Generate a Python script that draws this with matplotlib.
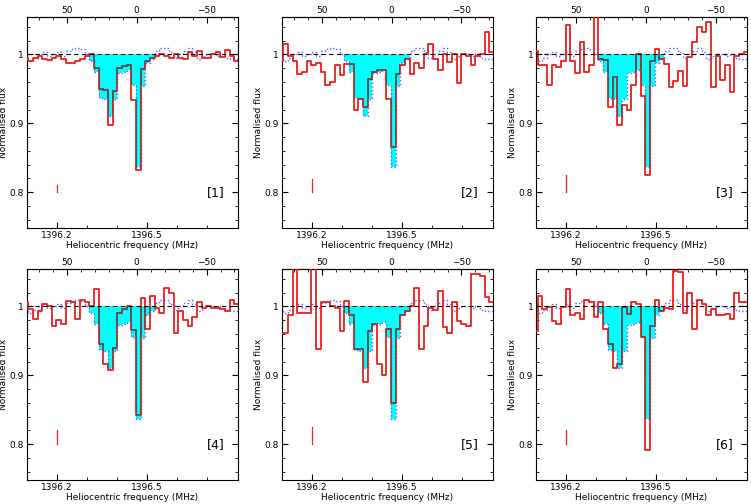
import numpy as np
import matplotlib.pyplot as plt
from matplotlib.ticker import MultipleLocator, FixedLocator

# channel grid (MHz), channels -24 .. 21 around the deepest channel
chan_width = 0.0156
freq = 1396.472 + chan_width * np.arange(-24, 22)

# model spectrum (blue dotted), same in every panel
model = [0.993, 0.990, 0.995, 1.000, 1.003, 0.998, 1.000, 1.003, 0.998, 1.005, 1.008, 1.010,
         1.008, 1.000, 0.990, 0.975, 0.937, 0.935, 0.911, 0.936, 0.973, 0.975, 0.977, 0.956,
         0.837, 0.954, 0.988, 0.993, 1.005, 1.010, 1.010, 1.003, 0.995, 1.000, 1.005, 1.010,
         1.003, 0.993, 0.997, 1.000, 1.000, 0.997, 1.000, 0.995, 0.993, 0.993]

flux1 = [0.995, 0.990, 0.995, 0.998, 0.993, 0.992, 0.995, 0.998, 0.993, 0.988, 0.988, 0.990,
         0.993, 0.998, 1.000, 0.980, 0.950, 0.948, 0.898, 0.947, 0.980, 0.983, 0.984, 0.934,
         0.832, 0.979, 0.991, 0.995, 0.997, 1.000, 0.998, 0.995, 1.000, 0.995, 0.993, 1.003,
         0.997, 1.005, 0.995, 0.995, 1.000, 1.003, 0.996, 1.007, 0.998, 0.990]
flux2 = [0.990, 1.015, 0.998, 0.990, 0.972, 0.975, 0.990, 0.985, 0.988, 0.975, 0.955, 0.960,
         0.985, 0.970, 0.986, 0.986, 0.919, 0.936, 0.924, 0.965, 0.975, 0.977, 0.977, 0.936,
         0.866, 0.972, 0.985, 0.993, 0.972, 0.988, 0.980, 1.000, 1.015, 0.993, 0.977, 1.000,
         0.989, 1.000, 0.958, 1.000, 0.998, 0.985, 0.998, 1.000, 1.032, 1.003]
flux3 = [1.005, 0.985, 0.985, 0.955, 0.985, 0.982, 0.990, 1.042, 0.990, 0.973, 1.018, 0.975,
         0.985, 1.070, 0.994, 0.992, 0.924, 0.967, 0.897, 0.926, 0.920, 0.955, 1.000, 0.940,
         0.825, 0.990, 1.008, 0.993, 0.986, 0.952, 0.962, 0.976, 0.954, 0.996, 1.018, 1.040,
         1.032, 1.047, 0.953, 0.998, 0.963, 0.985, 0.945, 0.998, 1.000, 1.003]
flux4 = [1.006, 0.996, 0.982, 0.994, 1.003, 1.001, 0.972, 0.980, 0.974, 1.008, 1.006, 0.982,
         1.010, 1.006, 1.000, 1.025, 0.946, 0.917, 0.907, 0.940, 0.991, 0.996, 1.000, 0.966,
         0.842, 1.012, 0.967, 1.015, 0.997, 0.990, 1.027, 1.020, 0.962, 0.994, 0.980, 0.972,
         0.984, 1.006, 0.997, 1.000, 0.998, 0.998, 0.996, 0.993, 1.010, 1.003]
flux5 = [0.960, 0.962, 0.987, 1.070, 0.991, 0.991, 0.990, 1.070, 0.938, 1.007, 1.006, 1.000,
         0.997, 0.965, 1.008, 0.987, 0.938, 0.938, 0.890, 0.965, 0.975, 0.917, 0.900, 0.967,
         0.860, 0.967, 0.987, 0.993, 1.000, 1.027, 0.938, 0.972, 0.997, 0.995, 1.023, 0.970,
         0.962, 1.006, 0.979, 0.974, 0.972, 1.047, 1.047, 1.044, 1.013, 1.007]
flux6 = [0.965, 1.015, 0.996, 0.999, 0.979, 0.975, 0.999, 1.025, 0.987, 0.990, 0.982, 1.010,
         1.006, 0.984, 1.006, 0.967, 0.946, 0.910, 0.917, 0.999, 0.989, 1.006, 1.003, 0.955,
         0.791, 0.972, 1.010, 0.993, 0.998, 0.996, 1.052, 1.050, 0.990, 1.020, 0.967, 1.010,
         1.003, 0.987, 0.996, 0.987, 0.987, 0.989, 0.982, 1.020, 1.006, 1.006]

spectra = [flux1, flux2, flux3, flux4, flux5, flux6]
rms_bar = [0.010, 0.019, 0.025, 0.020, 0.025, 0.020]
labels = ['[1]', '[2]', '[3]', '[4]', '[5]', '[6]']

win = slice(14, 28)   # channels inside the absorption window
f0 = 1396.466         # frequency of zero velocity
c = 299792.458


def steps(x, y):
    edges = np.concatenate([x - chan_width / 2, [x[-1] + chan_width / 2]])
    return np.repeat(edges, 2)[1:-1], np.repeat(y, 2)


def f2v(f):
    return c * (f0 - f) / f0


def v2f(v):
    return f0 - v * f0 / c


fig = plt.figure(figsize=(7.51, 5.04), dpi=100)
lefts = [0.0356, 0.3751, 0.7137]
bottoms = [0.5476, 0.0476]

for k, flux in enumerate(spectra):
    ax = fig.add_axes([lefts[k % 3], bottoms[k // 3], 0.281, 0.4196])
    flux = np.array(flux)
    mod = np.array(model)

    xw, yw = steps(freq[win], mod[win])
    poly = ax.fill_between(xw, yw, 1, color='#00ffff', lw=0, zorder=1)

    xm, ym = steps(freq, mod)
    ax.plot(xm, ym, color='#5a5aff', ls=':', lw=1.0, zorder=2)

    xs, ys = steps(freq, flux)
    ax.plot(xs, ys, color='#e8201c', lw=1.3, zorder=3)
    dark, = ax.plot(xs, ys, color='#555555', lw=1.3, zorder=4)
    dark.set_clip_path(poly.get_paths()[0], ax.transData)

    ax.axhline(1, color='black', ls=(0, (4, 3)), lw=0.8, zorder=5)
    ax.plot([1396.2, 1396.2], [0.8, 0.8 + rms_bar[k]], color='#e8201c', lw=0.9)
    ax.text(1396.728, 0.8, labels[k], fontsize=9, ha='center', va='center')

    ax.set_xlim(1396.1, 1396.803)
    ax.set_ylim(0.748, 1.055)
    ax.xaxis.set_major_locator(FixedLocator([1396.2, 1396.5]))
    ax.xaxis.set_minor_locator(FixedLocator([1396.3, 1396.4, 1396.6, 1396.7]))
    ax.set_xticklabels(['1396.2', '1396.5'])
    ax.set_yticks([0.8, 0.9, 1.0], ['0.8', '0.9', '1'])
    ax.yaxis.set_minor_locator(MultipleLocator(0.02))
    ax.tick_params(which='both', direction='in', right=True, top=False,
                   labelsize=6.5, pad=2)
    ax.tick_params(which='major', length=4)
    ax.tick_params(which='minor', length=2)
    ax.set_xlabel('Heliocentric frequency (MHz)', fontsize=6.5, labelpad=1)
    ax.set_ylabel('Normalised flux', fontsize=6.5)
    ax.yaxis.set_label_coords(-0.088, 0.5)

    sec = ax.secondary_xaxis('top', functions=(f2v, v2f))
    sec.xaxis.set_major_locator(FixedLocator([50, 0, -50]))
    sec.xaxis.set_minor_locator(FixedLocator([70, 60, 40, 30, 20, 10, -10, -20,
                                              -30, -40, -60, -70]))
    sec.tick_params(which='both', direction='in', labelsize=6.5, pad=1)
    sec.tick_params(which='major', length=4)
    sec.tick_params(which='minor', length=2)

fig.savefig('out.png', dpi=100)
